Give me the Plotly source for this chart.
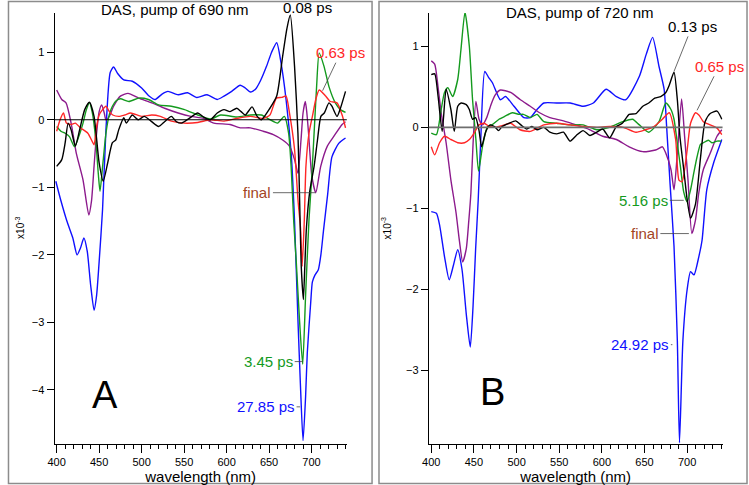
import plotly.graph_objects as go

# ---------------- Panel A : pump 690 nm ----------------
A_blue_wl = [399, 405, 412, 419, 424, 428, 432, 436, 440, 444, 447, 450, 454, 458, 463, 467, 472, 479, 489, 500,
             508, 516, 524, 531, 543, 554, 565, 577, 589, 597, 606, 616, 622, 628, 634, 640, 647, 653, 659, 664,
             670, 676, 680, 684, 687, 690, 693, 695, 699, 701, 704, 708, 711, 714, 719, 724, 732, 740]
A_blue_val = [-0.91, -1.2, -1.5, -1.75, -2.0, -1.9, -1.75, -1.95, -2.45, -2.82, -2.6, -2.1, -1.33, -0.15, 0.7, 0.78, 0.68, 0.59, 0.57, 0.47,
              0.36, 0.30, 0.38, 0.42, 0.37, 0.40, 0.33, 0.37, 0.30, 0.35, 0.42, 0.51, 0.47, 0.41, 0.45, 0.58, 0.79, 1.0, 1.14, 0.85,
              0.3, -0.49, -1.5, -2.96, -3.95, -4.75, -4.1, -3.45, -2.71, -2.4, -2.3, -2.22, -2.0, -1.65, -1.1, -0.55, -0.35, -0.27]

A_black_wl = [400, 406, 410, 413.5, 417, 422, 427, 433, 438.6, 444, 450, 454.8, 460, 465.6, 469.5, 473, 479, 482, 489, 496,
              503, 511, 520, 527, 535, 541, 547, 556, 566, 573, 581, 589, 597, 604, 612, 617, 622, 630, 636, 641,
              651, 659, 666, 671, 675, 680, 684, 686, 688, 690.4, 692, 694, 698, 703, 707, 711, 715, 720.5, 724, 730, 734, 740]
A_black_val = [-0.69, -0.59, -0.34, -0.05, -0.15, -0.39, -0.15, 0.15, 0.26, 0.05, -0.64, -0.91, -0.64, -0.34, -0.3, -0.15, 0.03, -0.05, 0.07, 0.0,
               0.05, -0.02, -0.1, -0.03, 0.05, -0.03, -0.05, 0.02, 0.1, 0.04, 0.0, 0.1, 0.15, 0.12, 0.17, 0.12, 0.07, 0.19, 0.05, 0.0,
               0.17, 0.35, 0.94, 1.35, 1.55, 0.79, -0.2, -1.2, -2.2, -2.66, -2.2, -1.6, -1.05, -0.69, -0.3, 0.05, 0.1, 0.25, 0.2, 0.05, 0.17, 0.42]

A_green_wl = [400, 405, 410, 415, 421, 426, 431, 435, 438.6, 442, 446, 449, 451, 454, 458, 462, 465.6, 470, 475, 485,
              496.5, 508, 520, 535, 550.6, 566, 581, 593, 612, 628, 641, 651, 660, 668, 673, 676, 679, 682, 686, 689.6,
              693, 697, 700, 703, 706, 709, 714.7, 720.5, 728, 734, 740]
A_green_val = [-0.1, -0.17, -0.2, -0.25, -0.4, -0.25, -0.05, 0.15, 0.25, 0.1, -0.3, -0.8, -1.06, -0.7, -0.2, 0.08, 0.2, 0.28, 0.31, 0.27,
               0.32, 0.3, 0.22, 0.2, 0.15, 0.07, 0.01, 0.07, 0.04, 0.07, 0.07, 0.0, -0.05, 0.05, -0.2, -0.7, -1.5, -2.1, -3.0, -3.62,
               -2.6, -1.48, -0.9, -0.2, 0.5, 0.99, 0.79, 0.49, 0.25, 0.15, 0.11]

A_red_wl = [400, 404, 408, 411.5, 417, 422, 428, 436.7, 441, 444, 447, 450, 454, 458, 462, 466, 473, 480, 487, 500,
            512, 522, 535, 550, 566, 581, 597, 612, 628, 643, 651, 658.7, 665, 670, 674, 680, 684, 687, 689, 691.5,
            693.4, 697, 701, 705, 709, 716.6, 722, 730, 736, 740]
A_red_val = [-0.17, 0.0, 0.1, -0.05, -0.07, -0.05, -0.12, -0.2, -0.3, -0.37, -0.1, 0.07, 0.15, 0.2, 0.12, 0.07, 0.05, 0.07, 0.1, 0.05,
             0.07, 0.05, -0.02, -0.05, -0.04, 0.0, -0.02, 0.02, 0.05, 0.02, 0.07, 0.32, 0.33, 0.35, 0.1, -0.44, -1.18, -1.6, -2.17, -1.48,
             -0.69, -0.2, 0.05, 0.3, 0.44, 0.35, 0.27, 0.25, 0.07, -0.12]

A_purple_wl = [400, 406, 411, 417, 423, 431, 437.8, 441, 444, 447, 450, 453, 456, 458, 462, 467, 475, 484, 496.5, 512,
               527, 543, 558, 573, 585, 604, 616, 628, 643, 655, 666, 674, 680, 684, 687.6, 690, 692.7, 694.5, 696.5, 700.4,
               705, 710.8, 718.6, 726, 736, 740]
A_purple_val = [0.44, 0.3, 0.25, -0.05, -0.49, -0.89, -1.41, -1.2, -0.69, -0.2, 0.12, 0.22, 0.1, 0.0, 0.05, 0.2, 0.35, 0.39, 0.32, 0.25,
                0.17, 0.1, 0.05, 0.02, -0.05, -0.07, -0.12, -0.12, -0.17, -0.22, -0.3, -0.39, -0.59, -0.79, -0.3, 0.1, 0.27, 0.1, -0.2, -0.84,
                -1.08, -0.69, -0.39, -0.25, -0.07, -0.03]

# ---------------- Panel B : pump 720 nm ----------------
B_blue_wl = [400, 406, 410, 415.6, 421, 426, 431, 436, 441, 445.7, 449, 452, 455, 458, 462.7, 467, 471.7, 481, 487, 497,
             508.5, 516, 524, 532, 547, 563, 578, 590, 605, 617, 628, 644, 652, 659.5, 667, 673, 676, 680, 684.6, 688.5,
             691, 695, 700, 704, 708, 713.6, 717.5, 723, 731, 740.7]
B_blue_val = [-1.04, -1.06, -1.22, -1.6, -1.88, -1.7, -1.51, -1.75, -2.3, -2.71, -2.2, -1.5, -0.9, -0.15, 0.69, 0.62, 0.55, 0.34, 0.38, 0.26,
              0.12, 0.12, 0.22, 0.3, 0.3, 0.3, 0.26, 0.3, 0.47, 0.38, 0.34, 0.63, 0.9, 1.11, 0.75, 0.47, 0.0, -0.7, -1.47, -2.63,
              -3.89, -2.63, -2.0, -1.78, -1.82, -1.6, -1.39, -0.77, -0.44, -0.15]

B_black_wl = [400, 404, 408, 412.8, 417.4, 423, 427, 431, 435, 441, 444.6, 448.4, 452, 456, 459, 464, 469, 474, 479, 483,
              491, 499, 505, 512, 518, 524, 532, 539, 547, 555, 562.6, 570, 578, 586, 594, 601, 609, 617, 624, 632,
              640, 648, 655, 662, 669, 675, 679, 684.6, 688.5, 691.5, 696, 700, 704, 709.7, 715.6, 721, 727, 735, 740.7]
B_black_val = [0.65, 0.66, 0.38, -0.05, 0.47, 0.22, -0.05, 0.26, 0.3, 0.28, 0.22, 0.1, 0.12, -0.04, -0.24, -0.05, 0.03, 0.01, -0.04, 0.01,
               0.05, 0.08, 0.03, -0.02, 0.01, -0.03, 0.0, -0.06, -0.08, -0.06, -0.17, -0.1, -0.04, -0.1, -0.06, -0.02, -0.13, 0.01, 0.05, 0.16,
               0.17, 0.26, 0.3, 0.36, 0.38, 0.43, 0.52, 0.68, 0.34, -0.11, -0.52, -0.89, -1.12, -0.95, -0.38, 0.07, 0.17, 0.2, 0.1]

B_green_wl = [400, 406, 411.6, 415.5, 419.4, 425, 431, 434.8, 439.5, 444.6, 448.4, 452.3, 455.4, 460, 466, 471, 479.4, 487, 495, 503,
              508, 516, 524, 532, 547, 563, 578, 594, 609, 624.6, 636, 644, 655, 667, 675, 681, 684.6, 688.5, 692.3, 696,
              700, 704, 708, 711.7, 715.6, 719, 725, 729, 735, 740]
B_green_val = [-0.07, -0.09, 0.22, 0.43, 0.49, 0.38, 0.59, 0.96, 1.42, 1.0, 0.34, -0.15, -0.54, -0.24, 0.01, 0.03, 0.1, 0.14, 0.18, 0.16,
               0.16, 0.12, 0.16, 0.07, 0.05, 0.03, 0.03, -0.03, 0.0, 0.07, 0.1, 0.03, -0.06, 0.07, 0.3, 0.22, 0.1, -0.2, -0.5, -0.8,
               -0.92, -0.77, -0.55, -0.36, -0.21, -0.19, -0.16, -0.19, -0.17, -0.17]

B_red_wl = [400, 404, 409.7, 415.5, 423, 431, 439, 444.6, 450.3, 456, 462, 468, 475, 483, 493, 504, 516, 532, 547, 563,
            578, 594, 609, 625, 640, 651, 661, 671, 679, 686.5, 690.4, 694, 700, 704, 709.8, 714, 719, 727, 735, 740.7]
B_red_val = [-0.24, -0.34, -0.19, -0.11, -0.15, -0.19, -0.19, -0.15, -0.07, 0.03, 0.05, 0.01, 0.0, 0.02, 0.05, -0.03, -0.05, 0.03, 0.05, 0.03,
             0.01, 0.0, 0.01, 0.0, -0.06, -0.03, 0.01, 0.1, 0.18, -0.15, -0.65, -0.67, -0.28, 0.05, 0.18, 0.15, 0.07, 0.03, -0.01, -0.09]

B_purple_wl = [400, 404, 407.8, 411.6, 417.4, 423, 429, 433, 436.8, 441, 444, 446.5, 449, 452.3, 456, 460, 465, 470, 475, 481,
               493, 504.5, 516, 527, 539, 555, 570, 586, 601, 617, 632, 648, 663, 671, 675, 681, 684.6, 688.5, 693.5, 697,
               701, 705.5, 709.8, 713.6, 719, 727, 735, 740.7]
B_purple_val = [0.82, 0.78, 0.51, 0.18, -0.19, -0.65, -1.05, -1.4, -1.66, -1.5, -1.15, -0.8, -0.2, 0.32, 0.1, 0.03, 0.12, 0.28, 0.4, 0.46,
                0.43, 0.34, 0.26, 0.18, 0.12, 0.08, 0.03, -0.03, -0.11, -0.15, -0.24, -0.3, -0.28, -0.24, -0.32, -0.52, -0.77, -0.32, 0.35, -0.11,
                -0.65, -1.31, -1.14, -0.81, -0.52, -0.32, -0.11, -0.03]

COL = {"blue": "#1010ff", "black": "#000000", "green": "#149a1e", "red": "#ff2626", "purple": "#8c1a8c"}
FINAL_COL = "#a3441f"
FONT = "Liberation Sans, Arial, sans-serif"

W, H = 749, 485

fig = go.Figure()

panelA = [(A_blue_wl, A_blue_val, "blue"), (A_purple_wl, A_purple_val, "purple"), (A_green_wl, A_green_val, "green"),
          (A_red_wl, A_red_val, "red"), (A_black_wl, A_black_val, "black")]
panelB = [(B_blue_wl, B_blue_val, "blue"), (B_purple_wl, B_purple_val, "purple"), (B_green_wl, B_green_val, "green"),
          (B_red_wl, B_red_val, "red"), (B_black_wl, B_black_val, "black")]

for wl, val, c in panelA:
    fig.add_trace(go.Scatter(x=wl, y=val, mode="lines", xaxis="x", yaxis="y",
                             line=dict(color=COL[c], width=1.4, shape="spline", smoothing=0.6),
                             showlegend=False, hoverinfo="skip"))
for wl, val, c in panelB:
    fig.add_trace(go.Scatter(x=wl, y=val, mode="lines", xaxis="x2", yaxis="y2",
                             line=dict(color=COL[c], width=1.4, shape="spline", smoothing=0.6),
                             showlegend=False, hoverinfo="skip"))

def xax(domain, rng, anchor):
    return dict(domain=domain, range=rng, anchor=anchor, showline=True, linecolor="black", linewidth=1,
                ticks="outside", ticklen=8, tickcolor="black", tick0=400, dtick=50,
                minor=dict(ticks="outside", ticklen=4, dtick=10, tick0=400, tickcolor="black"),
                showgrid=False, zeroline=False, tickfont=dict(size=11, family=FONT, color="black"),
                title=dict(text="wavelength (nm)", font=dict(size=15, family=FONT, color="black"), standoff=0))

def yax(domain, rng, anchor):
    return dict(domain=domain, range=rng, anchor=anchor, showline=True, linecolor="black", linewidth=1,
                ticks="outside", ticklen=7, tickcolor="black", dtick=1, showgrid=False, zeroline=False,
                tickfont=dict(size=11, family=FONT, color="black"))

ydom = [1 - 444 / H, 1 - 13 / H]
fig.update_layout(
    width=W, height=H, margin=dict(l=0, r=0, t=0, b=0),
    paper_bgcolor="white", plot_bgcolor="white",
    xaxis=xax([48 / W, 343 / W], [397.5, 741.5], "y"),
    yaxis=yax(ydom, [-4.80, 1.58], "x"),
    xaxis2=xax([425.7 / W, 722.3 / W], [397.0, 741.5], "y2"),
    yaxis2=yax(ydom, [-3.905, 1.41], "x2"),
    font=dict(family=FONT),
)

shapes = [
    dict(type="line", xref="x domain", yref="y", x0=0, x1=1, y0=0, y1=0, line=dict(color="black", width=1.2)),
    dict(type="line", xref="x2 domain", yref="y2", x0=0, x1=1, y0=0, y1=0, line=dict(color="#6e6e6e", width=1.6)),
    dict(type="rect", xref="paper", yref="paper", x0=1.5 / W, x1=368.5 / W, y0=1.5 / H, y1=1 - 1.5 / H,
         line=dict(color="#8c8c8c", width=1.5)),
    dict(type="rect", xref="paper", yref="paper", x0=375.5 / W, x1=747 / W, y0=1.5 / H, y1=1 - 1.5 / H,
         line=dict(color="#8c8c8c", width=1.5)),
]
fig.update_layout(shapes=shapes)

ann = []
def paper_text(txt, px, py, size, color="black"):
    ann.append(dict(text=txt, x=px / W, y=1 - py / H, xref="paper", yref="paper", showarrow=False,
                    font=dict(size=size, family=FONT, color=color), xanchor="center", yanchor="middle"))

paper_text("DAS, pump of 690 nm", 170, 9, 15)
paper_text("DAS, pump of 720 nm", 578, 12, 15)
paper_text("A", 99, 395, 38)
paper_text("B", 490, 392, 38)
for px in (13, 383):
    ann.append(dict(text="x10<sup>-3</sup>", x=px / W, y=1 - 228 / H, xref="paper", yref="paper", showarrow=False,
                    textangle=-90, font=dict(size=10, family=FONT, color="black"), xanchor="center", yanchor="middle"))

def label(txt, x, y, ax, ay, color, xr, yr):
    ann.append(dict(text=txt, x=x, y=y, xref=xr, yref=yr, ax=ax, ay=ay, showarrow=True, arrowhead=0,
                    arrowwidth=0.8, arrowcolor="#444444", standoff=0,
                    font=dict(size=15, family=FONT, color=color)))

label("0.08 ps", 675, 1.55, 17, -8, "black", "x", "y")
label("0.63 ps", 713, 0.43, 18, -38, COL["red"], "x", "y")
label("final", 704.6, -1.08, -58, 0, FINAL_COL, "x", "y")
label("3.45 ps", 689.6, -3.58, -34, 0, COL["green"], "x", "y")
label("27.85 ps", 686.5, -4.25, -34, 0, COL["blue"], "x", "y")

label("0.13 ps", 684.6, 0.69, 18, -45, "black", "x2", "y2")
label("0.65 ps", 711.6, 0.21, 22, -44, COL["red"], "x2", "y2")
label("5.16 ps", 696, -0.9, -40, 0, COL["green"], "x2", "y2")
label("final", 702, -1.31, -44, 0, FINAL_COL, "x2", "y2")
label("24.92 ps", 682.7, -2.68, -32, 0, COL["blue"], "x2", "y2")

fig.update_layout(annotations=ann)

fig.write_html("out.html", config={"displayModeBar": False, "staticPlot": True},
               post_script="document.body.style.margin='0';document.body.style.overflow='hidden';")
